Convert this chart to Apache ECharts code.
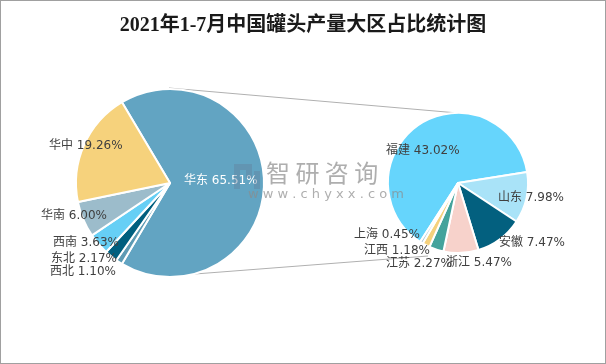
<!DOCTYPE html>
<html>
<head>
<meta charset="utf-8">
<script src="https://cdn.jsdelivr.net/npm/echarts@6/dist/echarts.min.js"></script>
<style>
html,body{margin:0;padding:0;background:#fff;}
#wrap{width:606px;height:364px;box-sizing:border-box;border:1px solid #A0A0A0;}
#chart{width:604px;height:362px;}
</style>
</head>
<body>
<div id="wrap"><div id="chart"></div></div>
<script>
// ---- data ----
var regionNames = ['华东', '西北', '东北', '西南', '华南', '华中'];
var regionValues = [65.51, 1.10, 2.17, 3.63, 6.00, 19.26];
var provinceNames = ['福建', '山东', '安徽', '浙江', '江苏', '江西', '上海'];
var provinceValues = [43.02, 7.98, 7.47, 5.47, 2.27, 1.18, 0.45];

// ---- styles / layout ----
var regionColors = ['#62A4C2', '#5E9BB4', '#005F7F', '#66CFF5', '#9CBCCB', '#F6D27C'];
var provinceColors = ['#66D5FC', '#A9E3F8', '#03607F', '#F7D2CB', '#44A39C', '#F5D17D', '#A6C3D3'];
var regionLabelPos = [[183, 180], [49, 271], [50, 258], [52, 242], [40, 215], [48, 145]];
var provinceLabelPos = [[385, 150], [497, 197], [498, 242], [445, 262], [385, 263], [363, 250], [353, 234]];

var L = {cx: 169, cy: 182, r: 94};
var R = {cx: 457, cy: 182, r: 70};

var sumR = regionValues.reduce(function(a, b){return a + b;}, 0);
var sumP = provinceValues.reduce(function(a, b){return a + b;}, 0);
var leftStart = regionValues[0] / sumR * 360 / 2;   // main slice centred on the right
var rightStart = 9 + provinceValues[0] / sumP * 360;

var font = "'DejaVu Sans','Noto Sans CJK SC',sans-serif";

function mk(names, vals, cols, whiteIdx) {
  return names.map(function(n, i){
    return {
      name: n, value: vals[i],
      itemStyle: {color: cols[i]},
      label: {color: i === whiteIdx ? '#ffffff' : '#404040'}
    };
  });
}

function layoutFn(posArr) {
  return function(p){
    var pos = posArr[p.dataIndex];
    return {x: pos[0], y: pos[1], align: 'left', verticalAlign: 'middle'};
  };
}

var chart = echarts.init(document.getElementById('chart'));
chart.setOption({
  animation: false,
  title: {
    text: '2021年1-7月中国罐头产量大区占比统计图',
    left: 'center', top: 10,
    textStyle: {fontFamily: "'Liberation Serif','Noto Sans CJK SC',serif", fontSize: 20, fontWeight: 'bold', color: '#1a1a1a'}
  },
  graphic: [
    {type: 'line', silent: true, z: 0,
     shape: {x1: L.cx - 1, y1: L.cy - L.r - 1, x2: R.cx, y2: R.cy - R.r},
     style: {stroke: '#B0B0B0', lineWidth: 1}},
    {type: 'line', silent: true, z: 0,
     shape: {x1: L.cx - 1, y1: L.cy + L.r - 1, x2: R.cx - 30, y2: R.cy + R.r + 3},
     style: {stroke: '#B0B0B0', lineWidth: 1}},
    {type: 'rect', silent: true, z: 100, shape: {x: 233, y: 163, width: 6, height: 25}, style: {fill: 'rgba(100,130,160,0.45)'}},
    {type: 'rect', silent: true, z: 100, shape: {x: 239, y: 163, width: 12, height: 6}, style: {fill: 'rgba(100,130,160,0.45)'}},
    {type: 'rect', silent: true, z: 100, shape: {x: 245, y: 169, width: 6, height: 8}, style: {fill: 'rgba(100,130,160,0.45)'}},
    {type: 'rect', silent: true, z: 100, shape: {x: 253, y: 170, width: 6, height: 18}, style: {fill: 'rgba(100,130,160,0.45)'}},
    {type: 'text', silent: true, z: 100, left: 265, top: 160,
     style: {text: '智 研 咨 询', fontSize: 24, fontFamily: "'Noto Sans CJK SC',sans-serif", fill: 'rgba(140,140,140,0.7)'}},
    {type: 'text', silent: true, z: 100, left: 247, top: 187,
     style: {text: 'w w w . c h y x x . c o m', fontSize: 13, fontFamily: "'DejaVu Sans',sans-serif", fill: 'rgba(140,140,140,0.7)'}}
  ],
  series: [
    {
      type: 'pie', center: [L.cx, L.cy], radius: L.r, startAngle: leftStart, clockwise: true,
      avoidLabelOverlap: false,
      itemStyle: {borderColor: '#fff', borderWidth: 2},
      label: {show: true, position: 'inside', formatter: function(p){return p.name + ' ' + p.value.toFixed(2) + '%';},
              fontSize: 12, fontFamily: font},
      labelLine: {show: false},
      labelLayout: layoutFn(regionLabelPos),
      emphasis: {disabled: true},
      data: mk(regionNames, regionValues, regionColors, 0)
    },
    {
      type: 'pie', center: [R.cx, R.cy], radius: R.r, startAngle: rightStart, clockwise: true,
      avoidLabelOverlap: false,
      itemStyle: {borderColor: '#fff', borderWidth: 2},
      label: {show: true, position: 'inside', formatter: function(p){return p.name + ' ' + p.value.toFixed(2) + '%';},
              fontSize: 12, fontFamily: font},
      labelLine: {show: false},
      labelLayout: layoutFn(provinceLabelPos),
      emphasis: {disabled: true},
      data: mk(provinceNames, provinceValues, provinceColors, -1)
    }
  ]
});
</script>
</body>
</html>
